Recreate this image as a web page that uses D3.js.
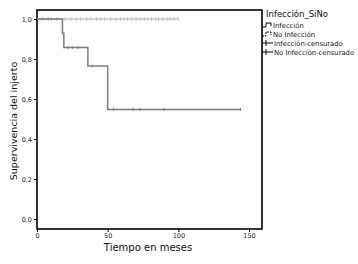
<!DOCTYPE html>
<html>
<head>
<script src="https://d3js.org/d3.v7.min.js"></script>
<style>
  body { margin: 0; background: #fff; }
  text { font-family: "DejaVu Sans", sans-serif; }
</style>
</head>
<body>
<svg id="chart" width="358" height="264"></svg>
<script>
// Kaplan-Meier steps, Infección group
const infTimes = [0, 18, 19, 36, 50];
const infSurv = [1.0, 0.929, 0.857, 0.765, 0.548];
const infEnd = 144;
const infCensored = [22, 25, 29, 39, 54, 68, 73, 90, 144];

// No Infección group stays at 1
const noInfEnd = 100;
const noInfCensored = [4, 8, 10, 14, 20, 24, 28, 31, 35, 38, 42, 45, 48, 52, 56, 59, 62, 64, 67, 70, 73, 76, 78, 81, 84, 86, 89, 92, 94, 97, 100];

const yTicks = [0, 0.2, 0.4, 0.6, 0.8, 1.0];
const xTicks = [0, 50, 100, 150];
const legendTitle = "Infección_SiNo";
const legendItems = ["Infección", "No Infección", "Infección-censurado", "No Infección-censurado"];

const svg = d3.select("#chart");
const plotL = 37, plotR = 262, plotT = 10, plotB = 229;

const x = d3.scaleLinear().domain([0, 150]).range([37, 249]);
const y = d3.scaleLinear().domain([0, 1]).range([219, 19]);

// plot frame
svg.append("rect")
  .attr("x", plotL).attr("y", plotT)
  .attr("width", plotR - plotL).attr("height", plotB - plotT)
  .attr("fill", "#fdfdfd").attr("stroke", "#000").attr("stroke-width", 1.6);

const comma = d => d3.format(".1f")(d).replace(".", ",");

const yAxis = svg.append("g")
  .attr("transform", `translate(${plotL},0)`)
  .call(d3.axisLeft(y).tickValues(yTicks).tickFormat(comma).tickSize(3).tickPadding(2));
yAxis.select(".domain").remove();
yAxis.selectAll("text").attr("font-size", 6.5).attr("fill", "#222");

const xAxis = svg.append("g")
  .attr("transform", `translate(0,${plotB})`)
  .call(d3.axisBottom(x).tickValues(xTicks).tickSize(3).tickPadding(1));
xAxis.select(".domain").remove();
xAxis.selectAll("text").attr("font-size", 6.5).attr("fill", "#222");

// No Infección line
const noInfColor = "#c4c4c4";
svg.append("line")
  .attr("x1", x(0)).attr("x2", x(noInfEnd))
  .attr("y1", y(1)).attr("y2", y(1))
  .attr("stroke", noInfColor).attr("stroke-width", 1.5);
svg.selectAll(".cNo").data(noInfCensored).enter().append("line")
  .attr("x1", d => x(d)).attr("x2", d => x(d))
  .attr("y1", y(1) - 2).attr("y2", y(1) + 2)
  .attr("stroke", noInfColor).attr("stroke-width", 1);

// Infección step line
const infColor = "#7d7d7d";
const stepPts = infTimes.map((t, i) => [x(t), y(infSurv[i])]);
stepPts.push([x(infEnd), y(infSurv[infSurv.length - 1])]);
svg.append("path")
  .attr("d", d3.line().curve(d3.curveStepAfter)(stepPts))
  .attr("fill", "none").attr("stroke", infColor).attr("stroke-width", 1.5);

const survAt = t => {
  let s = infSurv[0];
  infTimes.forEach((ti, i) => { if (t >= ti) s = infSurv[i]; });
  return s;
};
svg.selectAll(".cInf").data(infCensored).enter().append("line")
  .attr("x1", d => x(d)).attr("x2", d => x(d))
  .attr("y1", d => y(survAt(d)) - 1.5).attr("y2", d => y(survAt(d)) + 1.5)
  .attr("stroke", infColor).attr("stroke-width", 1);

// axis titles
svg.append("text")
  .attr("x", 148).attr("y", 251)
  .attr("text-anchor", "middle").attr("font-size", 10).attr("fill", "#111")
  .text("Tiempo en meses");
svg.append("text")
  .attr("transform", "translate(17,121) rotate(-90)")
  .attr("text-anchor", "middle").attr("font-size", 9.5).attr("fill", "#111")
  .text("Supervivencia del injerto");

// legend
const lg = svg.append("g").attr("transform", "translate(264,0)");
lg.append("text").attr("x", 2).attr("y", 17)
  .attr("font-size", 8.5).attr("fill", "#111").text(legendTitle);
legendItems.forEach((name, i) => {
  const yy = 25 + i * 9;
  const g = lg.append("g");
  if (i < 2) {
    g.append("path")
      .attr("d", `M-2,${yy + 2}H2V${yy - 2}H7V${yy + 1}`)
      .attr("fill", "none").attr("stroke", "#000").attr("stroke-width", 1)
      .attr("stroke-dasharray", i === 1 ? "2,1" : null);
  } else {
    g.append("path")
      .attr("d", `M-2,${yy}H9M2,${yy - 3}V${yy + 3}`)
      .attr("fill", "none").attr("stroke", "#000").attr("stroke-width", 1);
  }
  g.append("text").attr("x", i < 2 ? 9 : 10).attr("y", yy + 2.5)
    .attr("font-size", 6.8).attr("fill", "#111").text(name);
});
</script>
</body>
</html>
